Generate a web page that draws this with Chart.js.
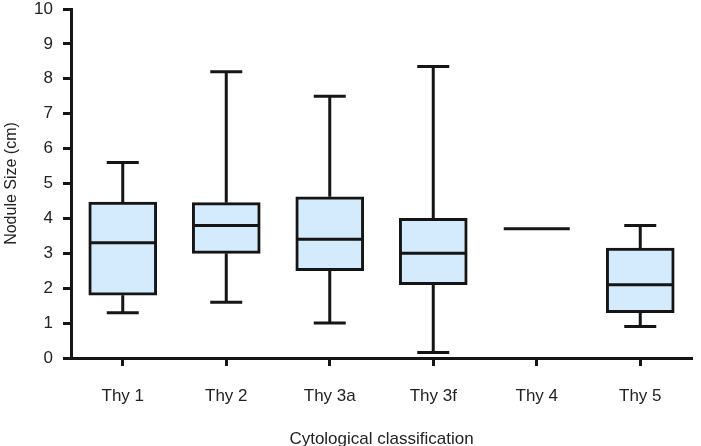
<!DOCTYPE html>
<html>
<head>
<meta charset="utf-8">
<script src="https://cdn.jsdelivr.net/npm/chart.js@4.4.0/dist/chart.umd.min.js"></script>
<style>
  body { margin: 0; background: #fff; }
  #wrap { width: 701px; height: 446px; }
</style>
</head>
<body>
<div id="wrap"><canvas id="chart"></canvas></div>
<script>
// box plot values (cm)
const categories = ['Thy 1', 'Thy 2', 'Thy 3a', 'Thy 3f', 'Thy 4', 'Thy 5'];
const mins    = [1.3, 1.6, 1.0, 0.16, 3.7, 0.9];
const q1s     = [1.8, 3.0, 2.5, 2.1, 3.7, 1.3];
const medians = [3.3, 3.8, 3.4, 3.0, 3.7, 2.1];
const q3s     = [4.47, 4.45, 4.62, 4.0, 3.7, 3.15];
const maxs    = [5.6, 8.2, 7.5, 8.35, 3.7, 3.8];
const yTicks  = [0, 1, 2, 3, 4, 5, 6, 7, 8, 9, 10];

const INK = '#151515';
const BOX_W = 68;
const CAP_W = 32;

// boxes are floating bars q1..q3, single-value groups get no box
const boxes = q1s.map((v, i) => (v === q3s[i] ? null : [v, q3s[i]]));

// whiskers + medians on top of the bars
const whiskers = {
  id: 'whiskers',
  afterDatasetsDraw(chart) {
    const { ctx, scales: { x, y } } = chart;
    ctx.save();
    ctx.strokeStyle = INK;
    ctx.lineWidth = 3;
    ctx.lineCap = 'butt';
    const line = (x1, y1, x2, y2) => {
      ctx.beginPath();
      ctx.moveTo(x1, y1);
      ctx.lineTo(x2, y2);
      ctx.stroke();
    };
    categories.forEach((c, i) => {
      const cx = x.getPixelForValue(i);
      if (maxs[i] > q3s[i]) {
        line(cx, y.getPixelForValue(q3s[i]), cx, y.getPixelForValue(maxs[i]));
        line(cx - CAP_W / 2, y.getPixelForValue(maxs[i]), cx + CAP_W / 2, y.getPixelForValue(maxs[i]));
      }
      if (mins[i] < q1s[i]) {
        line(cx, y.getPixelForValue(q1s[i]), cx, y.getPixelForValue(mins[i]));
        line(cx - CAP_W / 2, y.getPixelForValue(mins[i]), cx + CAP_W / 2, y.getPixelForValue(mins[i]));
      }
      const my = y.getPixelForValue(medians[i]);
      line(cx - BOX_W / 2 + 1, my, cx + BOX_W / 2 - 1, my);
    });
    ctx.restore();
  }
};

new Chart(document.getElementById('chart'), {
  type: 'bar',
  data: {
    labels: categories,
    datasets: [{
      data: boxes,
      backgroundColor: '#d3ebfc',
      borderColor: INK,
      borderWidth: 3,
      borderSkipped: false,
      barThickness: BOX_W
    }]
  },
  options: {
    responsive: true,
    maintainAspectRatio: false,
    animation: false,
    layout: { padding: { top: 9, right: 9, left: 0, bottom: 0 } },
    plugins: { legend: { display: false }, tooltip: { enabled: false } },
    scales: {
      x: {
        offset: true,
        afterFit: (s) => { s.height = 88; },
        border: { display: true, color: INK, width: 3 },
        grid: { offset: false, drawOnChartArea: false, drawTicks: true, tickLength: 8, tickWidth: 3, tickColor: INK },
        ticks: { color: '#222', padding: 20, font: { family: 'Liberation Sans', size: 17 } },
        title: {
          display: true,
          text: 'Cytological classification',
          color: '#222',
          padding: { top: 0, bottom: 0 },
          font: { family: 'Liberation Sans', size: 17, lineHeight: 0.8 }
        }
      },
      y: {
        min: 0,
        max: 10,
        afterFit: (s) => { s.width = 71; s.paddingTop = 0; s.paddingBottom = 0; },
        afterBuildTicks: (s) => { s.ticks = yTicks.map(v => ({ value: v })); },
        border: { display: true, color: INK, width: 3 },
        grid: { drawOnChartArea: false, drawTicks: true, tickLength: 8, tickWidth: 3, tickColor: INK },
        ticks: { color: '#222', padding: 10, font: { family: 'Liberation Sans', size: 17 } },
        title: {
          display: true,
          text: 'Nodule Size (cm)',
          color: '#222',
          padding: { top: 2, bottom: 0 },
          font: { family: 'Liberation Sans', size: 16 }
        }
      }
    }
  },
  plugins: [whiskers]
});
</script>
</body>
</html>
